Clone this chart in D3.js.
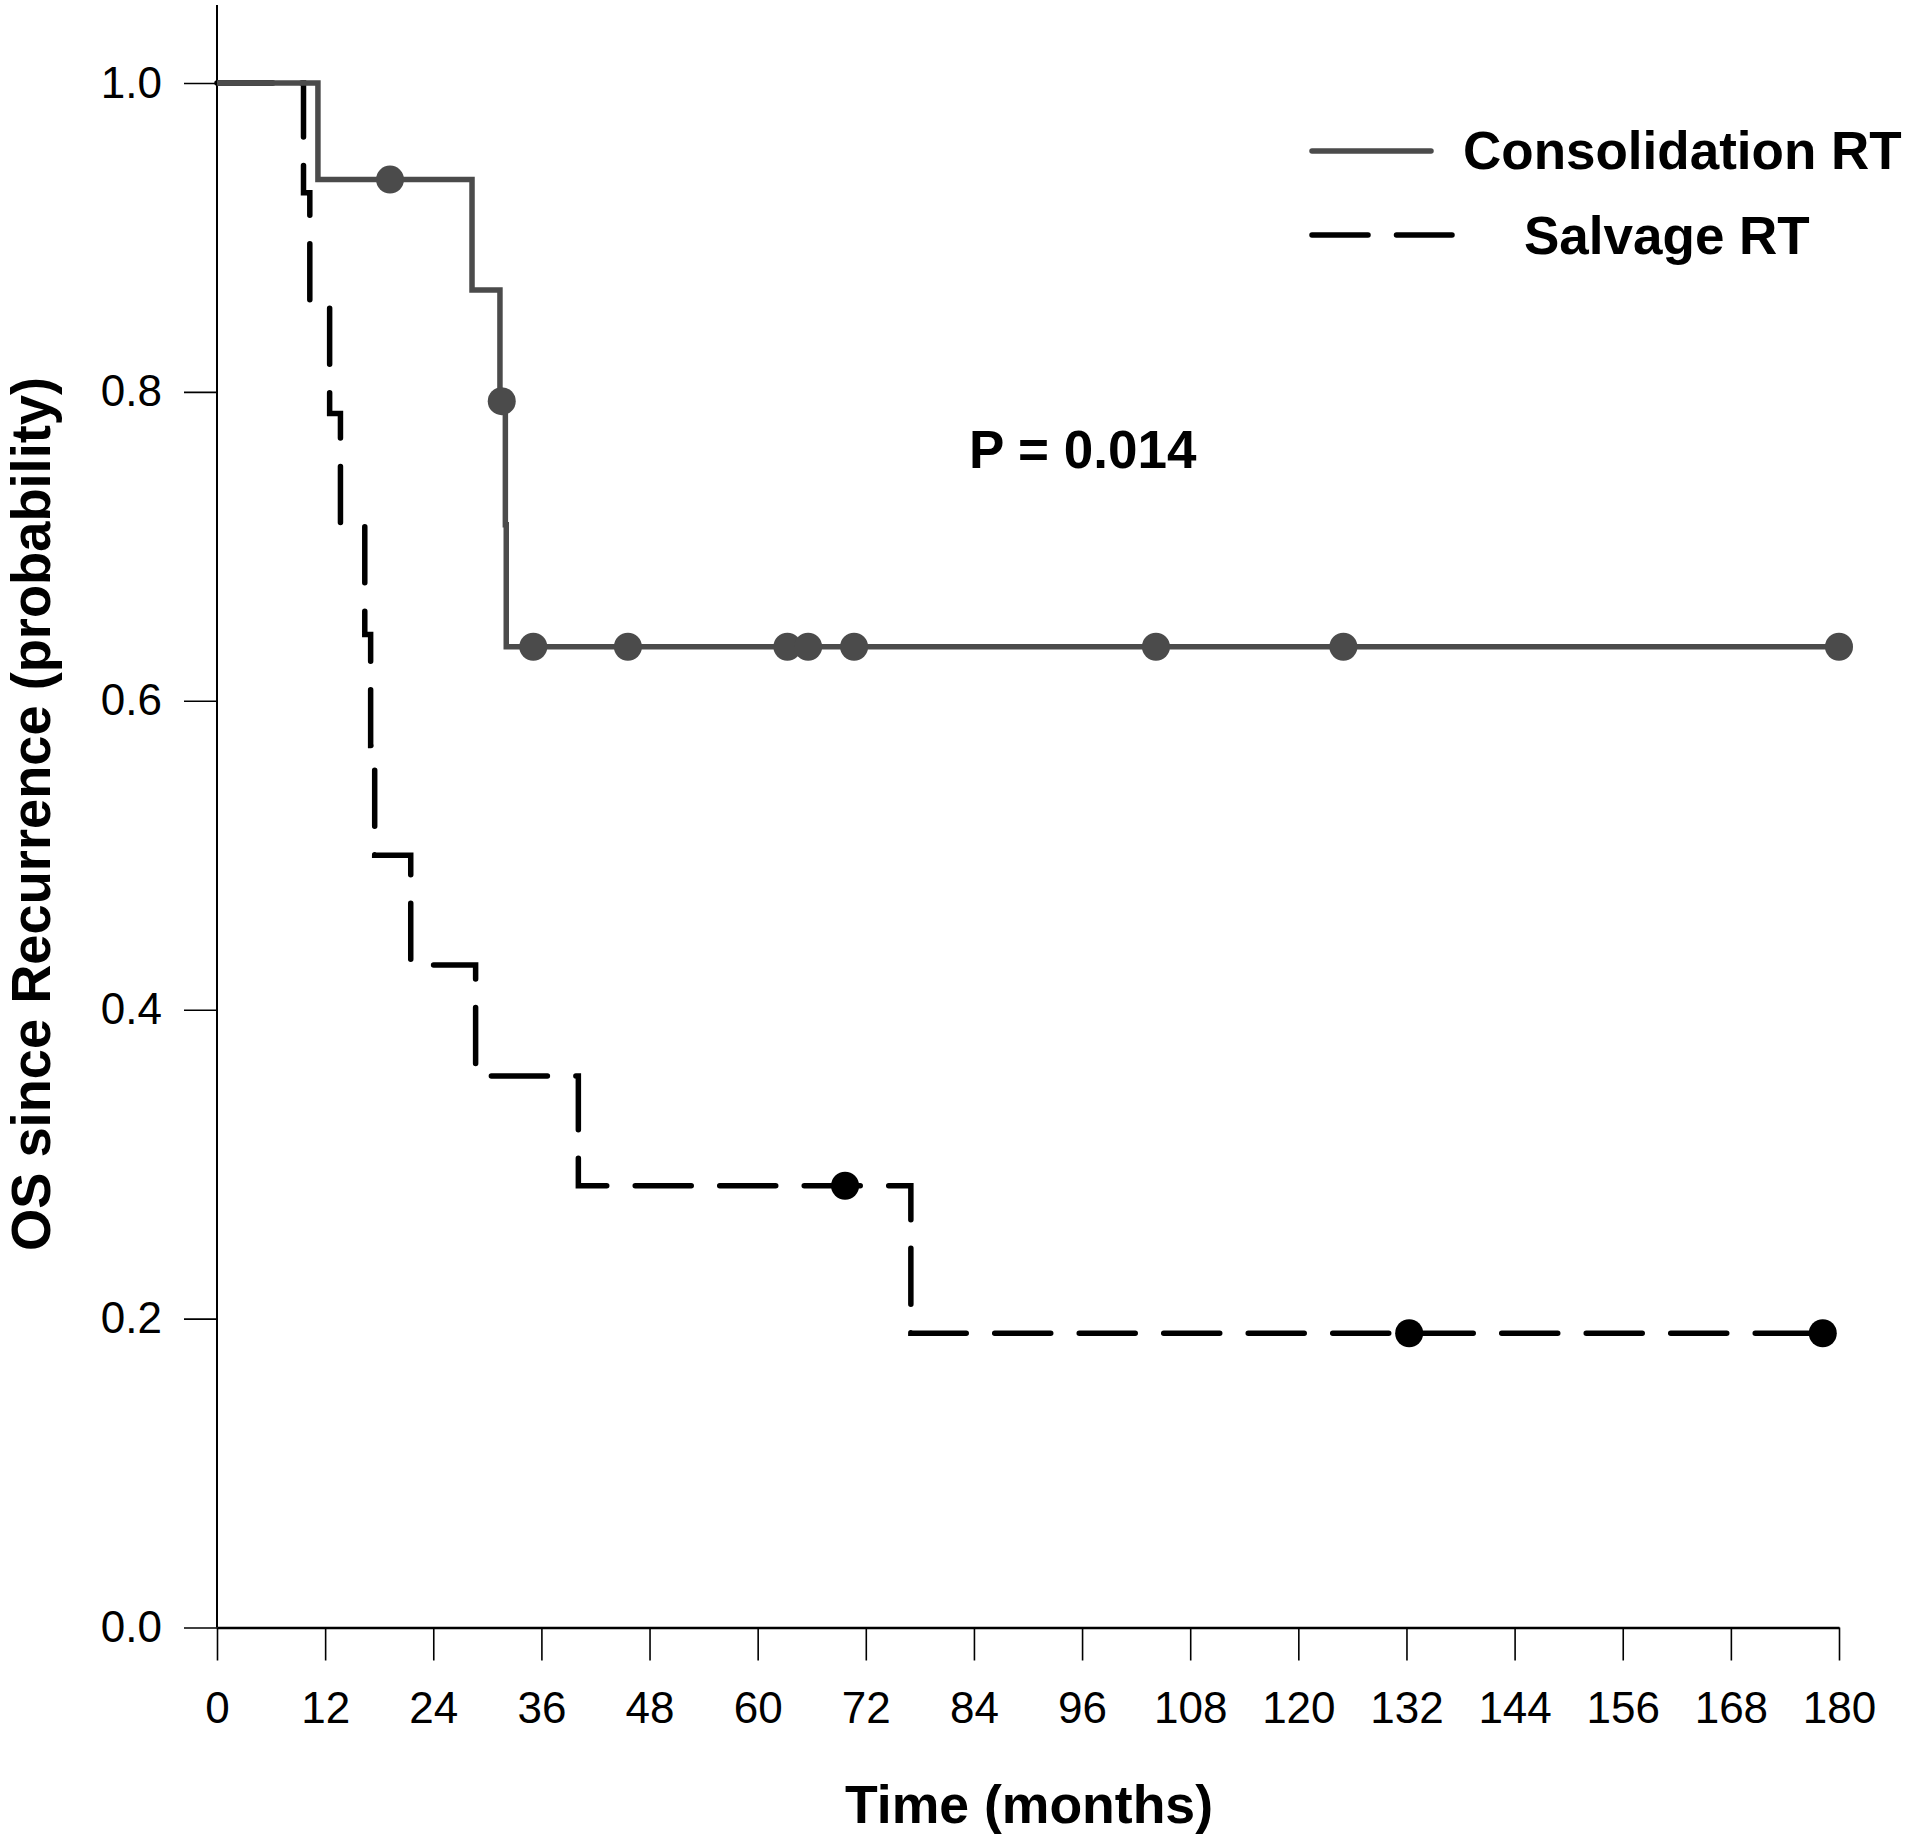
<!DOCTYPE html>
<html>
<head>
<meta charset="utf-8">
<script src="https://cdn.jsdelivr.net/npm/d3@7"></script>
<style>
  body { margin: 0; background: #fff; }
  text { font-family: "Liberation Sans", Arial, sans-serif; fill: #000; }
</style>
</head>
<body>
<svg width="1913" height="1839"></svg>
<script>
// survival steps (time in months, probability)
const consolTimes = [0, 11.2, 28.3, 31.4, 32.0, 32.1, 180];
const consolSurv  = [1.0, 0.9375, 0.866, 0.794, 0.714, 0.635, 0.635];
const consolCensored = [19.2, 31.6, 35.1, 45.6, 63.3, 65.6, 70.7, 104.2, 125.0, 180.0];

const salvageTimes = [0, 9.6, 10.3, 12.5, 13.7, 16.4, 17.05, 17.5, 21.5, 28.7, 40.1, 77.0, 178.2];
const salvageSurv  = [1.0, 0.929, 0.857, 0.786, 0.714, 0.643, 0.571, 0.5, 0.429, 0.357, 0.286, 0.1905, 0.1905];
const salvageCensored = [69.7, 132.3, 178.2];

const xTicks = [0, 12, 24, 36, 48, 60, 72, 84, 96, 108, 120, 132, 144, 156, 168, 180];
const yTicks = [0, 0.2, 0.4, 0.6, 0.8, 1.0];

const seriesNames = ["Consolidation RT", "Salvage RT"];
const pLabel = "P = 0.014";

const svg = d3.select("svg");
const grey = "#4b4b4b";

const xScale = d3.scaleLinear().domain([0, 180]).range([217, 1839]);
const yScale = d3.scaleLinear().domain([0, 1]).range([1627.5, 83]);

// step value just before time t (for placing censor marks)
function survAt(times, surv, t) {
  let v = surv[0];
  for (let i = 0; i < times.length; i++) {
    if (times[i] <= t) v = surv[i];
  }
  return v;
}

// axes
const xAxis = d3.axisBottom(xScale).tickValues(xTicks).tickSize(33).tickSizeOuter(0).tickPadding(31);
const yAxis = d3.axisLeft(yScale).tickValues(yTicks).tickFormat(d3.format(".1f"))
  .tickSize(33).tickSizeOuter(0).tickPadding(22);

const gx = svg.append("g")
  .attr("transform", `translate(0,${yScale(0)})`)
  .call(xAxis);
gx.select(".domain").attr("stroke-width", 2.5);
gx.selectAll(".tick line").attr("stroke-width", 1.6);
gx.selectAll("text").attr("font-size", 44).attr("font-family", null);

const gy = svg.append("g")
  .attr("transform", `translate(${xScale(0)},0)`)
  .call(yAxis);
gy.select(".domain").remove();
gy.selectAll(".tick line").attr("stroke-width", 1.6);
gy.selectAll("text").attr("font-size", 44).attr("font-family", null);

// y axis line runs above 1.0 to the top of the frame
svg.append("line")
  .attr("x1", xScale(0)).attr("x2", xScale(0))
  .attr("y1", 5).attr("y2", yScale(0))
  .attr("stroke", "#000").attr("stroke-width", 2);

// axis titles
svg.append("text")
  .attr("x", 1029).attr("y", 1823)
  .attr("text-anchor", "middle")
  .attr("font-size", 54).attr("font-weight", "bold")
  .attr("textLength", 368).attr("lengthAdjust", "spacingAndGlyphs")
  .text("Time (months)");

svg.append("text")
  .attr("transform", "translate(50,814) rotate(-90)")
  .attr("text-anchor", "middle")
  .attr("font-size", 56).attr("font-weight", "bold")
  .attr("textLength", 874).attr("lengthAdjust", "spacingAndGlyphs")
  .text("OS since Recurrence (probability)");

// curves
const line = d3.line()
  .x(d => xScale(d[0]))
  .y(d => yScale(d[1]))
  .curve(d3.curveStepAfter);

const salvagePts = salvageTimes.map((t, i) => [t, salvageSurv[i]]);
const consolPts = consolTimes.map((t, i) => [t, consolSurv[i]]);

svg.append("path")
  .datum(salvagePts)
  .attr("d", line)
  .attr("fill", "none")
  .attr("stroke", "#000")
  .attr("stroke-width", 5.5)
  .attr("stroke-dasharray", "56,28.5")
  .attr("stroke-linecap", "round");

svg.selectAll(".cens-salv")
  .data(salvageCensored)
  .enter()
  .append("circle")
  .attr("class", "cens-salv")
  .attr("cx", d => xScale(d))
  .attr("cy", d => yScale(survAt(salvageTimes, salvageSurv, d)))
  .attr("r", 14)
  .attr("fill", "#000");

svg.append("path")
  .datum(consolPts)
  .attr("d", line)
  .attr("fill", "none")
  .attr("stroke", grey)
  .attr("stroke-width", 5.5);

svg.selectAll(".cens-cons")
  .data(consolCensored)
  .enter()
  .append("circle")
  .attr("class", "cens-cons")
  .attr("cx", d => xScale(d))
  .attr("cy", d => yScale(survAt(consolTimes, consolSurv, d)))
  .attr("r", 14)
  .attr("fill", grey);

// p value
svg.append("text")
  .attr("x", 969).attr("y", 468)
  .attr("font-size", 53).attr("font-weight", "bold")
  .text(pLabel);

// legend
svg.append("line")
  .attr("x1", 1312).attr("x2", 1431)
  .attr("y1", 151).attr("y2", 151)
  .attr("stroke", grey).attr("stroke-width", 5.5)
  .attr("stroke-linecap", "round");
svg.append("text")
  .attr("x", 1463).attr("y", 169)
  .attr("font-size", 53).attr("font-weight", "bold")
  .text(seriesNames[0]);

svg.append("line")
  .attr("x1", 1312).attr("x2", 1452)
  .attr("y1", 235).attr("y2", 235)
  .attr("stroke", "#000").attr("stroke-width", 5.5)
  .attr("stroke-dasharray", "56,28.5")
  .attr("stroke-linecap", "round");
svg.append("text")
  .attr("x", 1524).attr("y", 254)
  .attr("font-size", 53).attr("font-weight", "bold")
  .text(seriesNames[1]);
</script>
</body>
</html>
